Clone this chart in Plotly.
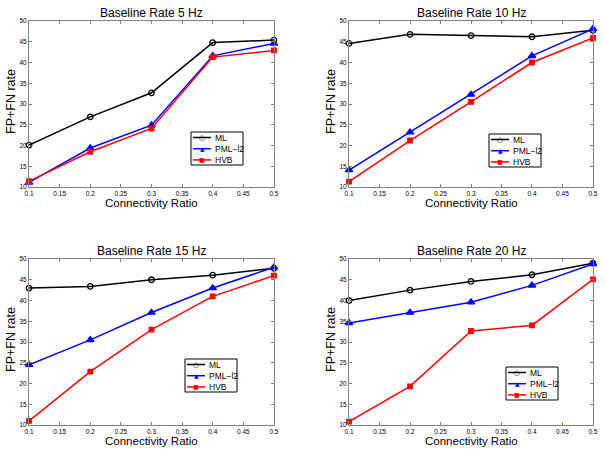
import plotly.graph_objects as go

x_ratio = [0.1, 0.2, 0.3, 0.4, 0.5]
panel_titles = ["Baseline Rate 5 Hz", "Baseline Rate 10 Hz", "Baseline Rate 15 Hz", "Baseline Rate 20 Hz"]
series_names = ["ML", "PML\u2212l2", "HVB"]

ml_vals = [
    [20.1, 26.9, 32.7, 44.8, 45.4],
    [44.6, 46.8, 46.5, 46.2, 47.75],
    [43.0, 43.4, 45.0, 46.1, 47.75],
    [40.0, 42.5, 44.6, 46.2, 49.0],
]
pml_vals = [
    [11.1, 19.4, 24.9, 41.6, 44.6],
    [14.1, 23.2, 32.3, 41.6, 48.1],
    [24.5, 30.5, 37.1, 43.0, 48.0],
    [34.6, 37.1, 39.6, 43.65, 48.8],
]
hvb_vals = [
    [11.4, 18.5, 24.1, 41.3, 42.9],
    [11.3, 21.2, 30.5, 40.0, 45.9],
    [11.0, 22.85, 33.0, 41.0, 46.0],
    [10.8, 19.3, 32.65, 34.0, 45.1],
]
x_ticks = [0.1, 0.15, 0.2, 0.25, 0.3, 0.35, 0.4, 0.45, 0.5]
y_ticks = [10, 15, 20, 25, 30, 35, 40, 45, 50]

W, H = 605, 453
# panel pixel boxes: (left, right, top, bottom)
boxes = [(29, 274, 21, 187), (349, 593, 21, 187), (29, 274, 259, 425), (349, 593, 259, 425)]
legend_pos = [(191, 132), (489, 134), (185, 359), (506, 367)]
LEG_W, LEG_H = 52, 33

FONT = "Liberation Sans, Arial, sans-serif"
fig = go.Figure()
layout = dict(width=W, height=H, margin=dict(l=0, r=0, t=0, b=0, pad=0), template="none",
              paper_bgcolor="white", plot_bgcolor="white", showlegend=False,
              font=dict(family=FONT, color="black"))
annotations = []
shapes = []

styles = [
    dict(color="black", symbol="circle-open", size=5.5, glyph="\u25cb", gsize=7),
    dict(color="blue", symbol="triangle-up", size=6.5, glyph="\u25b2", gsize=6),
    dict(color="red", symbol="square", size=4.5, glyph="\u25a0", gsize=6),
]


def px(xs):
    return xs / W


def py(ys):
    return 1 - ys / H


for i in range(4):
    l, r, t, b = boxes[i]
    xa = "x" if i == 0 else f"x{i+1}"
    ya = "y" if i == 0 else f"y{i+1}"
    data = [ml_vals[i], pml_vals[i], hvb_vals[i]]
    for name, vals, st in zip(series_names, data, styles):
        fig.add_trace(go.Scatter(
            x=x_ratio, y=vals, mode="lines+markers", name=name,
            line=dict(color=st["color"], width=1.5),
            marker=dict(symbol=st["symbol"], size=st["size"], color=st["color"],
                        line=dict(color=st["color"], width=1.3)),
            xaxis=xa, yaxis=ya, cliponaxis=False))
    xkey = "xaxis" if i == 0 else f"xaxis{i+1}"
    ykey = "yaxis" if i == 0 else f"yaxis{i+1}"
    axcommon = dict(showgrid=False, zeroline=False, showline=True, linecolor="#808080",
                    linewidth=1, mirror="ticks", ticks="inside", ticklen=3, automargin=False,
                    ticklabeloverflow="allow",
                    tickcolor="#808080", tickfont=dict(size=6.5, color="black", family=FONT))
    layout[xkey] = dict(domain=[px(l), px(r)], range=[0.0999, 0.5001], anchor=ya,
                        tickvals=x_ticks, ticktext=[f"{v:g}" for v in x_ticks], **axcommon)
    layout[ykey] = dict(domain=[py(b), py(t)], range=[10, 50], anchor=xa,
                        tickvals=y_ticks, **axcommon)
    cx = px((l + r) / 2)
    annotations.append(dict(text=panel_titles[i], x=cx, y=py(t - 8), xref="paper", yref="paper",
                            showarrow=False, font=dict(size=12, family=FONT),
                            xanchor="center", yanchor="middle"))
    annotations.append(dict(text="Connectivity Ratio", x=cx, y=py(b + 16), xref="paper", yref="paper",
                            showarrow=False, font=dict(size=11.5, family=FONT),
                            xanchor="center", yanchor="middle"))
    annotations.append(dict(text="FP+FN rate", x=px(l - 18), y=py((t + b) / 2 - 2), xref="paper", yref="paper",
                            showarrow=False, textangle=-90, font=dict(size=12.5, family=FONT),
                            xanchor="center", yanchor="middle"))
    # legend box (decoration)
    lx, ly = legend_pos[i]
    shapes.append(dict(type="rect", xref="paper", yref="paper", x0=px(lx), x1=px(lx + LEG_W),
                       y0=py(ly), y1=py(ly + LEG_H), line=dict(color="black", width=1),
                       fillcolor="white", layer="above"))
    for k, (name, st) in enumerate(zip(series_names, styles)):
        ry = ly + 5.5 + k * 11.2
        shapes.append(dict(type="line", xref="paper", yref="paper", x0=px(lx + 2), x1=px(lx + 20),
                           y0=py(ry), y1=py(ry), line=dict(color=st["color"], width=1.5), layer="above"))
        annotations.append(dict(text=st["glyph"], x=px(lx + 11), y=py(ry), xref="paper", yref="paper",
                                showarrow=False, font=dict(size=st["gsize"], color=st["color"], family="DejaVu Sans"),
                                xanchor="center", yanchor="middle"))
        annotations.append(dict(text=name, x=px(lx + 22), y=py(ry), xref="paper", yref="paper",
                                showarrow=False, font=dict(size=8.5, family=FONT),
                                xanchor="left", yanchor="middle"))

layout["annotations"] = annotations
layout["shapes"] = shapes
fig.update_layout(**layout)
fig.write_html(
    "out.html", config={"displayModeBar": False},
    post_script=("document.body.style.margin='0';document.body.style.overflow='hidden';"
                 "var gd=document.getElementById('{plot_id}');"
                 "Plotly.newPlot(gd, gd.data, gd.layout, {displayModeBar: false});"))
